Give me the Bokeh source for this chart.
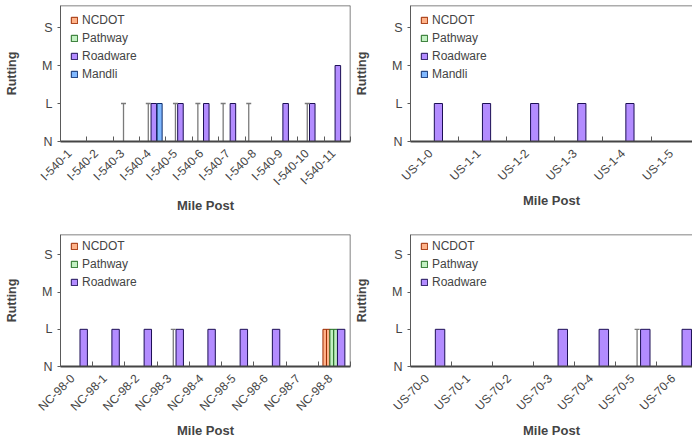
import math
from bokeh.plotting import figure
from bokeh.layouts import column, row
from bokeh.models import FixedTicker, Legend, LegendItem, Span
from bokeh.embed import file_html
from bokeh.resources import INLINE

# rutting level names, bottom to top
levels = ["N", "L", "M", "S"]

# x positions are read in category units from the left edge of the axis
i540_labels = ["I-540-1", "I-540-2", "I-540-3", "I-540-4", "I-540-5", "I-540-6",
               "I-540-7", "I-540-8", "I-540-9", "I-540-10", "I-540-11"]
i540_ncdot_x = [0.25, 1.25, 2.2, 7.3]
i540_ncdot = ["N", "N", "N", "N"]
i540_pathway_x = [0.4, 1.4, 5.35, 8.3]
i540_pathway = ["N", "N", "N", "N"]
i540_roadware_x = [3.54, 4.55, 5.53, 6.54, 8.54, 9.55, 10.52]
i540_roadware = ["L", "L", "L", "L", "L", "L", "M"]
i540_mandli_x = [3.76]
i540_mandli = ["L"]
i540_spike_x = [2.39, 3.33, 4.36, 5.21, 6.17, 7.14, 9.36]
i540_spike = ["L", "L", "L", "L", "L", "L", "L"]

us1_labels = ["US-1-0", "US-1-1", "US-1-2", "US-1-3", "US-1-4", "US-1-5"]
us1_ncdot_x = [0.3, 1.3]
us1_ncdot = ["N", "N"]
us1_pathway_x = [0.4, 1.4]
us1_pathway = ["N", "N"]
us1_roadware_x = [0.58, 1.58, 2.58, 3.56, 4.56]
us1_roadware = ["L", "L", "L", "L", "L"]
us1_mandli_x = [0.75, 1.75]
us1_mandli = ["N", "N"]

nc98_labels = ["NC-98-0", "NC-98-1", "NC-98-2", "NC-98-3", "NC-98-4",
               "NC-98-5", "NC-98-6", "NC-98-7", "NC-98-8"]
nc98_ncdot_x = [8.20, 8.31]
nc98_ncdot = ["L", "L"]
nc98_pathway_x = [8.42, 8.54]
nc98_pathway = ["L", "L"]
nc98_roadware_x = [0.72, 1.71, 2.71, 3.70, 4.69, 5.69, 6.69, 8.71]
nc98_roadware = ["L", "L", "L", "L", "L", "L", "L", "L"]
nc98_spike_x = [3.50]
nc98_spike = ["L"]

us70_labels = ["US-70-0", "US-70-1", "US-70-2", "US-70-3", "US-70-4",
               "US-70-5", "US-70-6"]
us70_ncdot_x = [0.3, 1.3, 2.3]
us70_ncdot = ["N", "N", "N"]
us70_pathway_x = [0.45, 1.45, 2.45]
us70_pathway = ["N", "N", "N"]
us70_roadware_x = [0.72, 3.71, 4.71, 5.72, 6.73]
us70_roadware = ["L", "L", "L", "L", "L"]
us70_spike_x = [5.52]
us70_spike = ["L"]

COLORS = {
    "NCDOT": ("#ffb38a", "#9c2a00"),
    "Pathway": ("#c2f0c2", "#1f6b1f"),
    "Roadware": ("#b38cff", "#1c0f55"),
    "Mandli": ("#80b8ff", "#0c2c6c"),
}
FONT = "Liberation Sans"
EDGE = "#5a5a5a"


def lv(names):
    return [levels.index(n) for n in names]


def make_panel(labels, bars, spike_x, spike_lv, x_end, y_end,
               width, height, left, right, top, bottom, legend_y, right_edge):
    p = figure(width=width, height=height, output_backend="svg",
               toolbar_location=None, x_range=(-0.5, x_end - 0.5),
               y_range=(0, y_end), min_border_left=left,
               min_border_right=right, min_border_top=top,
               min_border_bottom=bottom)
    p.grid.visible = False
    p.outline_line_color = None
    p.background_fill_color = "white"

    items = []
    for name, (xs, vals, w) in bars.items():
        fill, line = COLORS[name]
        r = p.vbar(x=[x - 0.5 for x in xs], top=lv(vals), bottom=0, width=w,
                   fill_color=fill, line_color=line, line_width=1)
        items.append(LegendItem(label=name, renderers=[r]))

    if spike_x:
        sx = [x - 0.5 for x in spike_x]
        sy = lv(spike_lv)
        p.segment(x0=sx, y0=[0] * len(sx), x1=sx, y1=sy,
                  line_color="#7a7a7a", line_width=1.3)
        p.scatter(x=sx, y=sy, marker="dash", size=5,
                  line_color="#7a7a7a", line_width=1.3)

    # labels sit a few pixels left of each category centre, as in Excel
    frame_w = width - left - right
    shift = 4 * x_end / frame_w
    n = len(labels)
    xa = p.xaxis[0]
    xa.ticker = FixedTicker(ticks=[k - shift for k in range(n)],
                            minor_ticks=[k + 0.5 for k in range(-1, n)])
    xa.major_label_overrides = {k - shift: lab for k, lab in enumerate(labels)}
    xa.major_label_orientation = math.pi / 4
    xa.major_tick_in = 0
    xa.major_tick_out = 0
    xa.minor_tick_in = 5
    xa.minor_tick_out = 0
    xa.minor_tick_line_color = EDGE
    xa.axis_line_color = "#454545"
    xa.axis_line_width = 2
    xa.major_label_text_font = FONT
    xa.major_label_text_font_size = "12px"
    xa.major_label_standoff = 10
    xa.axis_label = "Mile Post"
    xa.axis_label_text_font = FONT
    xa.axis_label_text_font_style = "bold"
    xa.axis_label_text_font_size = "13px"
    xa.axis_label_standoff = 2

    ya = p.yaxis[0]
    ya.ticker = FixedTicker(ticks=[0, 1, 2, 3])
    ya.major_label_overrides = {k: s for k, s in enumerate(levels)}
    ya.minor_tick_line_color = None
    ya.major_tick_in = 0
    ya.major_tick_out = 3
    ya.major_tick_line_color = EDGE
    ya.axis_line_color = EDGE
    ya.major_label_text_font = FONT
    ya.major_label_text_font_size = "12.5px"
    ya.major_label_standoff = 5
    ya.axis_label = "Rutting"
    ya.axis_label_text_font = FONT
    ya.axis_label_text_font_style = "bold"
    ya.axis_label_text_font_size = "12.5px"
    ya.axis_label_standoff = 20

    p.add_layout(Span(location=y_end, dimension="width",
                      line_color=EDGE, line_width=1.5))
    if right_edge:
        p.add_layout(Span(location=x_end - 0.5, dimension="height",
                          line_color=EDGE, line_width=1.5))

    legend = Legend(items=items, location=(10, legend_y),
                    orientation="vertical",
                    background_fill_alpha=0, border_line_color=None,
                    padding=0, margin=0, spacing=4, label_height=12,
                    glyph_height=8, glyph_width=8, label_standoff=4,
                    label_text_font=FONT, label_text_font_size="12px")
    p.add_layout(legend)
    return p


p1 = make_panel(i540_labels,
                {"NCDOT": (i540_ncdot_x, i540_ncdot, 0.15),
                 "Pathway": (i540_pathway_x, i540_pathway, 0.15),
                 "Roadware": (i540_roadware_x, i540_roadware, 0.21),
                 "Mandli": (i540_mandli_x, i540_mandli, 0.19)},
                i540_spike_x, i540_spike, 11.0, 3.58,
                352, 234, 60, 2, 5, 93, 60, True)
p2 = make_panel(us1_labels,
                {"NCDOT": (us1_ncdot_x, us1_ncdot, 0.1),
                 "Pathway": (us1_pathway_x, us1_pathway, 0.1),
                 "Roadware": (us1_roadware_x, us1_roadware, 0.17),
                 "Mandli": (us1_mandli_x, us1_mandli, 0.1)},
                [], [], 5.86, 3.58,
                340, 234, 57, 0, 5, 93, 60, False)
p3 = make_panel(nc98_labels,
                {"NCDOT": (nc98_ncdot_x, nc98_ncdot, 0.11),
                 "Pathway": (nc98_pathway_x, nc98_pathway, 0.12),
                 "Roadware": (nc98_roadware_x, nc98_roadware, 0.23)},
                nc98_spike_x, nc98_spike, 9.0, 3.55,
                352, 207, 60, 2, 0, 73, 77, True)
p4 = make_panel(us70_labels,
                {"NCDOT": (us70_ncdot_x, us70_ncdot, 0.12),
                 "Pathway": (us70_pathway_x, us70_pathway, 0.12),
                 "Roadware": (us70_roadware_x, us70_roadware, 0.23)},
                us70_spike_x, us70_spike, 6.87, 3.55,
                340, 207, 57, 0, 0, 73, 77, False)

# black rule along the bottom of the page, drawn as an empty strip of a plot
rule = figure(width=692, height=2, output_backend="svg", toolbar_location=None,
              min_border=0, x_range=(0, 1), y_range=(0, 1))
rule.axis.visible = False
rule.grid.visible = False
rule.outline_line_color = None
rule.background_fill_color = "#000000"
rule.border_fill_color = "#000000"

p = column(row(p1, p2), row(p3, p4), rule)
open("out.html", "w").write(file_html(p, INLINE))
